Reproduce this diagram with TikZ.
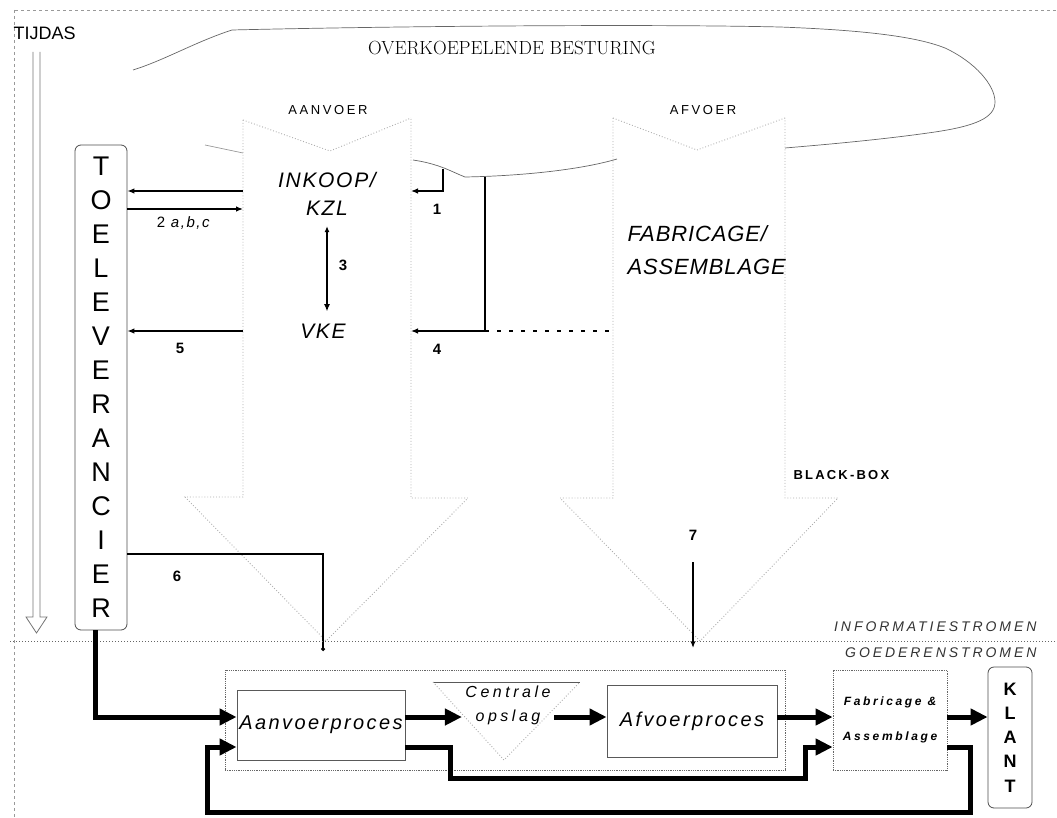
\documentclass[tikz,border=0pt]{standalone}
\usepackage{fontspec}
\setsansfont{Liberation Sans}
\usetikzlibrary{arrows.meta, positioning, calc}
\tikzstyle{info} = [line width=1.2pt, -{Latex[length=7pt,width=5.5pt]}]
\tikzstyle{goods} = [line width=5pt, -{Triangle[length=17pt,width=16pt]}]
\tikzstyle{faint} = [draw=black!32, dotted, line width=0.9pt]
\tikzstyle{wolk} = [draw=black!60, line width=0.7pt]
\tikzstyle{num} = [font={\sffamily\bfseries\fontsize{15}{17}\selectfont}]
\tikzstyle{letterbox} = [rectangle, rounded corners=6pt, draw=black!70, line width=0.8pt, align=center, inner sep=0pt]
\tikzstyle{dotbox} = [rectangle, draw=black!60, densely dotted, line width=0.8pt, inner sep=0pt]
\tikzstyle{procbox} = [rectangle, draw=black!65, line width=0.9pt, inner sep=0pt, font={\sffamily\itshape\fontsize{20}{24}\selectfont\addfontfeatures{LetterSpace=12}}]
\tikzstyle{besturing} = [font={\sffamily\itshape\fontsize{21}{28}\selectfont\addfontfeatures{LetterSpace=8}}, align=center]

\begin{document}
\begin{tikzpicture}[x=1pt, y=-1pt, every node/.style={font=\sffamily}]
  \useasboundingbox (0,0) rectangle (1057,818);

  % Kader
  \draw[black!40, dashed, line width=0.7pt] (15,10) -- (1057,10);
  \draw[black!40, dashed, line width=0.7pt] (14,10) -- (14,818);

  % Tijdas
  \node[anchor=west, font={\sffamily\fontsize{18}{20}\selectfont}] (tijdas) at (10,33) {TIJDAS};
  \draw[black!55, line width=0.8pt] (33,52) -- (33,617) -- (26,617) -- (36.5,633) -- (47,617) -- (40,617) -- (40,52);

  % Overkoepelende besturing
  \draw[wolk] (133,70) .. controls (165,60) and (195,42) .. (232,30) .. controls (400,26) and (650,24) .. (780,27) .. controls (860,30) and (915,36) .. (945,48) .. controls (975,62) and (995,85) .. (995,102) .. controls (995,118) and (975,126) .. (935,132) .. controls (880,140) and (820,145) .. (785,148);
  \draw[wolk] (413,160) .. controls (440,164) and (452,172) .. (465,177) .. controls (520,176) and (580,170) .. (617,159);
  \draw[wolk, black!40] (205,145) -- (243,153);
  \node[font={\rmfamily\fontsize{19}{21}\selectfont\addfontfeatures{LetterSpace=14}}] (overkoepel) at (512,48) {OVERKOEPELENDE BESTURING};

  % Aanvoer
  \draw[faint] (243,120) -- (330,151) -- (411,118);
  \draw[faint] (243,120) -- (243,497) -- (185,497) -- (326,641) -- (468,498) -- (411,498) -- (411,118);
  \node[font={\sffamily\fontsize{13}{15}\selectfont\addfontfeatures{LetterSpace=20}}] (aanvoer) at (328,110) {AANVOER};
  \node[besturing] (inkoop) at (327,194) {INKOOP/\\KZL};
  \node[besturing] (vke) at (323,331) {VKE};

  % Afvoer
  \draw[faint] (613,118) -- (697,150) -- (785,118);
  \draw[faint] (613,118) -- (613,498) -- (560,498) -- (700,641) -- (838,498) -- (785,498) -- (785,118);
  \node[font={\sffamily\fontsize{13}{15}\selectfont\addfontfeatures{LetterSpace=20}}] (afvoer) at (703,110) {AFVOER};
  \node[font={\sffamily\itshape\fontsize{22}{33}\selectfont\addfontfeatures{LetterSpace=4}}, align=left, anchor=west] (fabass) at (624,250) {FABRICAGE/\\ASSEMBLAGE};
  \node[font={\sffamily\bfseries\fontsize{13}{15}\selectfont\addfontfeatures{LetterSpace=17}}, anchor=west] (blackbox) at (790,475) {BLACK-BOX};

  % Toeleverancier
  \node[letterbox, minimum width=52pt, minimum height=485pt, font={\sffamily\fontsize{27}{34}\selectfont}] (toelev) at (101,387.5) {T\\O\\E\\L\\E\\V\\E\\R\\A\\N\\C\\I\\E\\R};

  % Informatiestromen
  \coordinate (aanv-l) at (243,0);
  \coordinate (aanv-r) at (411,0);
  \coordinate (afv-l) at (613,0);
  \coordinate (wolk1) at (443,169);
  \coordinate (wolk4) at (485,177);
  \coordinate (aanv-punt) at (323,651);
  \coordinate (afv-top) at (693,562);
  \coordinate (afv-punt) at (693,648);
  \draw[info] (aanv-l |- 0,191) -- (toelev.east |- 0,191);
  \draw[info] (toelev.east |- 0,209) -- (aanv-l |- 0,209);
  \node[font={\sffamily\fontsize{15}{17}\selectfont\addfontfeatures{LetterSpace=10}}] (n2) at (184,223) {2 \textit{a,b,c}};
  \draw[info] (wolk1) |- (aanv-r |- 0,191);
  \node[num] (n1) at (437,209) {1};
  \draw[line width=1.2pt, {Latex[length=6pt,width=5pt]}-{Latex[length=7pt,width=6pt]}, shorten <=7pt, shorten >=9pt] (inkoop.south) -- (inkoop.south |- vke.north);
  \node[num] (n3) at (343,265) {3};
  \draw[info] (wolk4) |- (aanv-r |- vke);
  \draw[line width=1.2pt, dash pattern=on 4pt off 8pt] (wolk4 |- vke) -- (afv-l |- vke);
  \node[num] (n4) at (437,349) {4};
  \draw[info] (aanv-l |- vke) -- (toelev.east |- vke);
  \node[num] (n5) at (180,348) {5};
  \draw[line width=1.2pt, -{Circle[length=4pt]}] (toelev.east |- 0,554) -| (aanv-punt);
  \node[num] (n6) at (177,576) {6};
  \draw[info] (afv-top) -- (afv-punt);
  \node[num] (n7) at (693,535) {7};

  % Scheiding
  \draw[black!60, dotted, line width=1pt] (10,641) -- (1057,641);
  \node[anchor=east, text=black!80, font={\sffamily\itshape\fontsize{14}{16}\selectfont\addfontfeatures{LetterSpace=21}}] (infostr) at (1040,627) {INFORMATIESTROMEN};
  \node[anchor=east, text=black!80, font={\sffamily\itshape\fontsize{14}{16}\selectfont\addfontfeatures{LetterSpace=21}}] (goedstr) at (1040,653) {GOEDERENSTROMEN};

  % Goederenstromen
  \node[dotbox, minimum width=560pt, minimum height=100pt] (procgebied) at (505,720) {};
  \node[procbox, minimum width=168pt, minimum height=70pt] (aanvproc) at (321,725) {Aanvoerproces};
  \node[procbox, minimum width=170pt, minimum height=72pt] (afvproc) at (692,721) {Afvoerproces};
  \draw[black!65, line width=0.8pt] (433,682) -- (580,682);
  \draw[faint] (433,682) -- (504,760) -- (580,682);
  \node[font={\sffamily\itshape\fontsize{16}{24}\selectfont\addfontfeatures{LetterSpace=22}}, align=center] (opslag) at (508,705) {Centrale\\opslag};
  \node[dotbox, minimum width=114pt, minimum height=100pt, align=center, font={\sffamily\bfseries\itshape\fontsize{12}{35}\selectfont\addfontfeatures{LetterSpace=22}}] (fabass2) at (890,720) {Fabricage \&\\Assemblage};
  \node[letterbox, minimum width=44pt, minimum height=141pt, font={\sffamily\bfseries\fontsize{18}{24.25}\selectfont}] (klant) at (1010,737.5) {K\\L\\A\\N\\T};

  \coordinate (ghoofd) at (0,717);
  \coordinate (gterug) at (0,747);
  \draw[goods] ([xshift=-6pt]toelev.south) |- (aanvproc.west |- ghoofd);
  \draw[goods] (aanvproc.east |- ghoofd) -- (opslag.west |- ghoofd);
  \draw[goods] (opslag.east |- ghoofd) -- (afvproc.west |- ghoofd);
  \draw[goods] (afvproc.east |- ghoofd) -- (fabass2.west |- ghoofd);
  \draw[goods] (fabass2.east |- ghoofd) -- (klant.west |- ghoofd);
  \draw[goods] (aanvproc.east |- gterug) -| (450,778) -| (805,747) -- (fabass2.west |- gterug);
  \draw[goods] (fabass2.east |- gterug) -| (970,812) -| (207,747) -- (aanvproc.west |- gterug);
\end{tikzpicture}
\end{document}
